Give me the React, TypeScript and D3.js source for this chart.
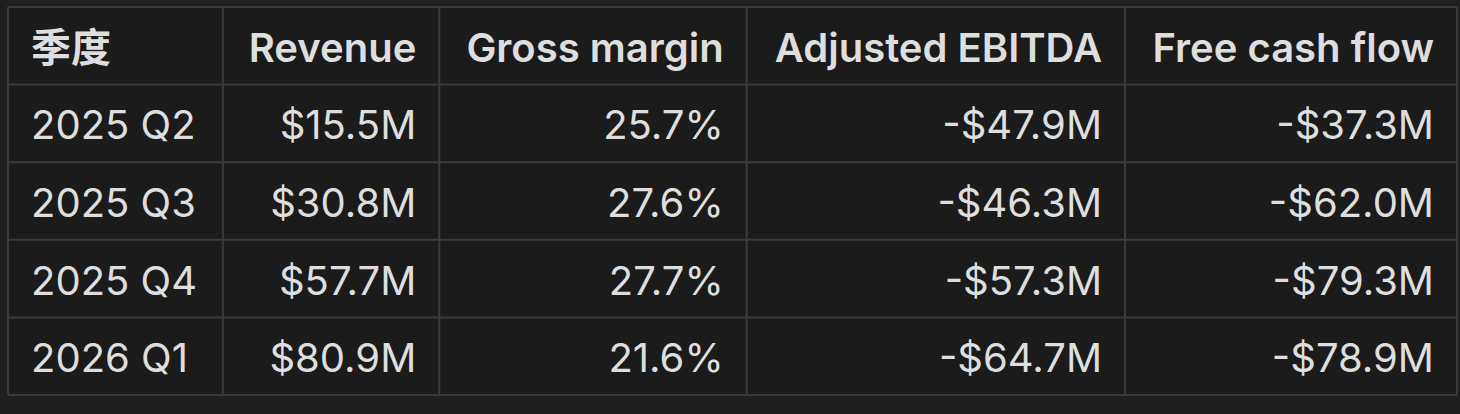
import React, { useMemo } from "react";
import * as d3 from "d3";

const headers = ["季度", "Revenue", "Gross margin", "Adjusted EBITDA", "Free cash flow"];
const quarters = ["2025 Q2", "2025 Q3", "2025 Q4", "2026 Q1"];
const revenue = [15.5, 30.8, 57.7, 80.9];
const grossMargin = [25.7, 27.6, 27.7, 21.6];
const adjEbitda = [-47.9, -46.3, -57.3, -64.7];
const freeCashFlow = [-37.3, -62.0, -79.3, -78.9];

const W = 1460;
const H = 414;
const FONT = "Inter, 'Noto Sans CJK SC', sans-serif";
const FS = 40;
const PAD = 23;
const LEFT = 8;
const RIGHT = 1457;
const TOP = 7;
const BOTTOM = 395;

const money = (v: number) => (v < 0 ? "-" : "") + "$" + Math.abs(v).toFixed(1) + "M";
const pct = (v: number) => v.toFixed(1) + "%";

function measure(text: string, weight: number) {
  const c = document.createElement("canvas").getContext("2d")!;
  c.font = `${weight} ${FS}px ${FONT}`;
  return c.measureText(text).width;
}

export default function App() {
  const rows = quarters.map((q, i) => [
    q,
    money(revenue[i]),
    pct(grossMargin[i]),
    money(adjEbitda[i]),
    money(freeCashFlow[i]),
  ]);

  const colEdges = useMemo(() => {
    const widths = headers.map((h, j) => {
      const wh = measure(h, 600);
      const wb = d3.max(rows, (r) => measure(r[j], 400)) ?? 0;
      return Math.max(wh, wb) + 2 * PAD;
    });
    const total = d3.sum(widths);
    const k = (RIGHT - LEFT) / total;
    const edges = [LEFT];
    widths.forEach((w) => edges.push(edges[edges.length - 1] + w * k));
    return edges;
  }, []);

  const y = d3
    .scaleBand<string>()
    .domain(["header", ...quarters])
    .range([TOP, BOTTOM]);

  const border = "#3a3a3a";
  const textColor = "#dedede";

  return (
    <svg
      width={W}
      height={H}
      style={{ position: "absolute", left: 0, top: 0, display: "block" }}
      fontFamily={FONT}
    >
      <rect width={W} height={H} fill="#1f1f1f" />
      <rect x={LEFT} y={TOP} width={RIGHT - LEFT} height={BOTTOM - TOP} fill="#1b1b1b" />
      {["header", ...quarters].map((k) => (
        <line
          key={"h" + k}
          x1={LEFT}
          x2={RIGHT}
          y1={y(k)!}
          y2={y(k)!}
          stroke={border}
          strokeWidth={2}
        />
      ))}
      <line x1={LEFT} x2={RIGHT} y1={BOTTOM} y2={BOTTOM} stroke={border} strokeWidth={2} />
      {colEdges.map((x, j) => (
        <line key={"v" + j} x1={x} x2={x} y1={TOP} y2={BOTTOM} stroke={border} strokeWidth={2} />
      ))}
      {headers.map((h, j) => (
        <text
          key={"t" + j}
          x={j === 0 ? colEdges[j] + PAD : colEdges[j + 1] - PAD}
          y={y("header")! + y.bandwidth() / 2}
          dy="0.4em"
          textAnchor={j === 0 ? "start" : "end"}
          fontSize={FS}
          fontWeight={600}
          fill={textColor}
        >
          {h}
        </text>
      ))}
      {rows.map((r, i) =>
        r.map((cell, j) => (
          <text
            key={"c" + i + "-" + j}
            x={j === 0 ? colEdges[j] + PAD : colEdges[j + 1] - PAD}
            y={y(quarters[i])! + y.bandwidth() / 2}
            dy="0.4em"
            textAnchor={j === 0 ? "start" : "end"}
            fontSize={FS}
            fontWeight={400}
            fill={textColor}
          >
            {cell}
          </text>
        ))
      )}
    </svg>
  );
}
